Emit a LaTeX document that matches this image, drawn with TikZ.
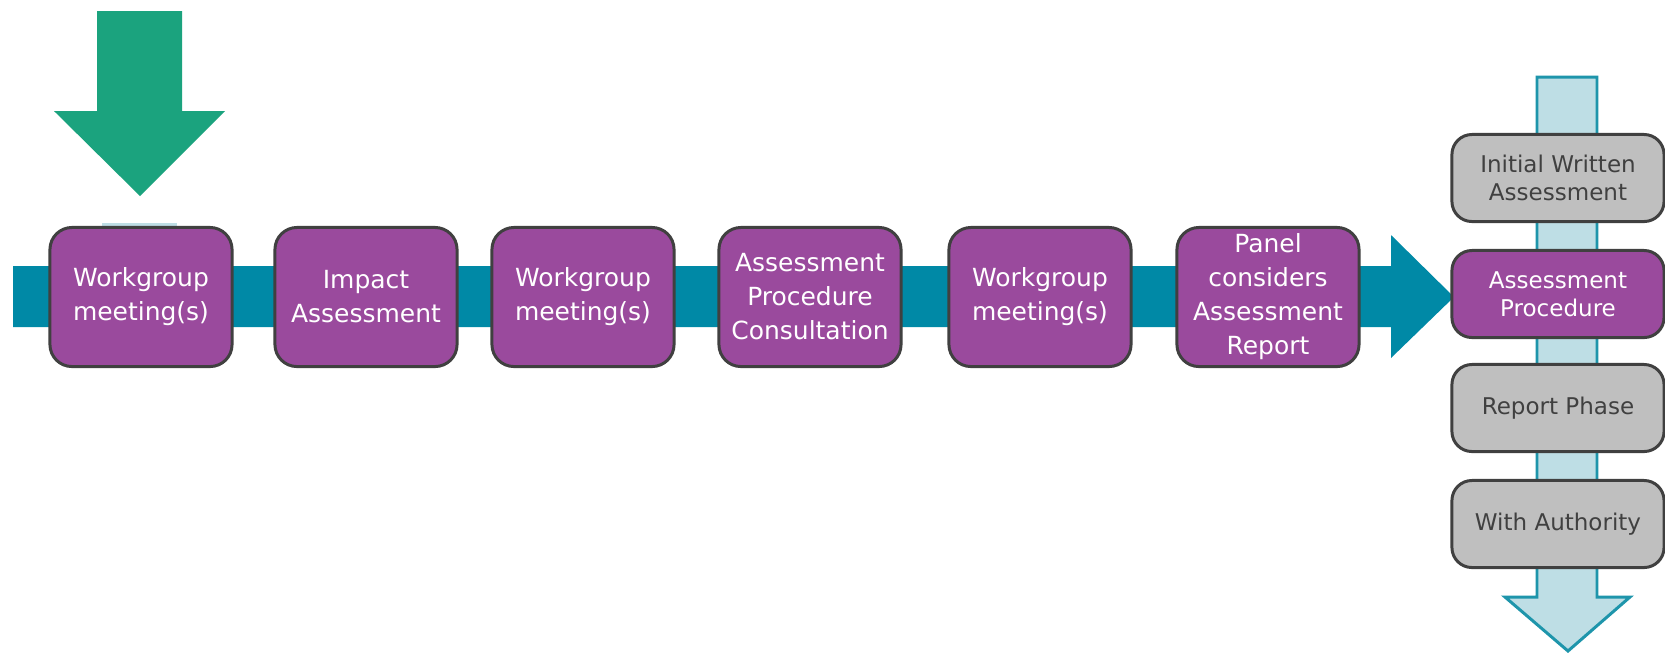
\documentclass[tikz,border=0pt]{standalone}
\usepackage{fontspec}
\setmainfont{DejaVu Sans}
\usepackage{tikz}
\usetikzlibrary{positioning}
\definecolor{stagepurple}{HTML}{9A4A9D}
\definecolor{boxedge}{HTML}{404040}
\definecolor{flowteal}{HTML}{0089A6}
\definecolor{startgreen}{HTML}{1BA37E}
\definecolor{phaseblue}{HTML}{BEDEE5}
\definecolor{phaseline}{HTML}{1E95AB}
\definecolor{phasegray}{HTML}{BFBFBF}
\definecolor{phasetext}{HTML}{404040}

\begin{document}
\begin{tikzpicture}[
        x=0.01cm, y=-0.01cm,
        stage/.style={rectangle, rounded corners=0.22cm, draw=boxedge, line width=0.85pt, fill=stagepurple, text=white, minimum width=1.82cm, minimum height=1.39cm, align=center, inner sep=0pt, font=\fontsize{7.1pt}{9.67pt}\selectfont},
        phase/.style={rectangle, rounded corners=0.2cm, draw=boxedge, line width=0.85pt, fill=phasegray, text=phasetext, minimum width=2.12cm, minimum height=0.87cm, align=center, inner sep=0pt, font=\fontsize{6.55pt}{8.1pt}\selectfont},
        current/.style={phase, fill=stagepurple, text=white}
    ]
    \useasboundingbox (0,0) rectangle (1665,653);
    \fill[white] (0,0) rectangle (1665,653);

    % start arrow
    \fill[startgreen] (97,11) -- (182,11) -- (182,111) -- (225,111) -- (140,196) -- (54,111) -- (97,111) -- cycle;

    % main flow
    \fill[flowteal] (13,266) -- (1391,266) -- (1391,235) -- (1454,297) -- (1391,358) -- (1391,327) -- (13,327) -- cycle;

    % phases column
    \filldraw[fill=phaseblue, draw=phaseline, line width=0.85pt, line join=miter] (1537,77) -- (1597,77) -- (1597,597) -- (1630,597) -- (1568,651) -- (1505,597) -- (1537,597) -- cycle;

    \fill[phaseblue] (102,223) rectangle (177,232);

    \foreach \x/\name/\label in {141/wgA/{Workgroup\\meeting(s)}, 366/impact/{Impact\\Assessment}, 583/wgB/{Workgroup\\meeting(s)}, 810/consult/{Assessment\\Procedure\\Consultation}, 1040/wgC/{Workgroup\\meeting(s)}, 1268/panel/{Panel\\considers\\Assessment\\Report}} {
        \node[stage] (\name) at (\x,297) {\label};
    }

    \foreach \y/\name/\label/\kind in {178/initial/{Initial Written\\Assessment}/phase, 294/procedure/{Assessment\\Procedure}/current, 408/report/{Report Phase}/phase, 524/authority/{With Authority}/phase} {
        \node[\kind] (\name) at (1558,\y) {\label};
    }
\end{tikzpicture}
\end{document}
